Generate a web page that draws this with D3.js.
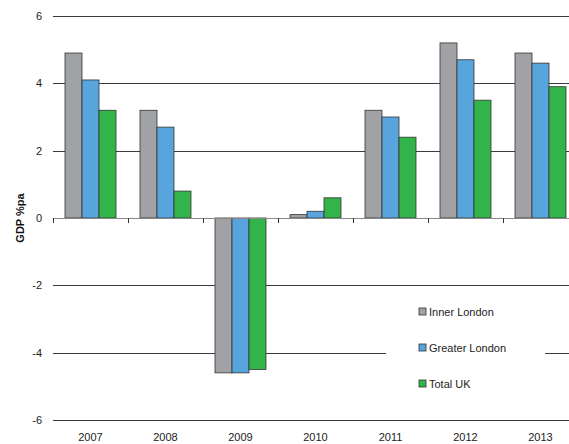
<!DOCTYPE html>
<html>
<head>
<meta charset="utf-8">
<script src="https://cdn.jsdelivr.net/npm/d3@7"></script>
<style>
  body { margin: 0; background: #fff; }
  svg { font-family: "Liberation Sans", Arial, sans-serif; }
</style>
</head>
<body>
<div id="chart"></div>
<script>
const years = ["2007", "2008", "2009", "2010", "2011", "2012", "2013"];
const seriesNames = ["Inner London", "Greater London", "Total UK"];
const innerLondon = [4.9, 3.2, -4.6, 0.1, 3.2, 5.2, 4.9];
const greaterLondon = [4.1, 2.7, -4.6, 0.2, 3.0, 4.7, 4.6];
const totalUK = [3.2, 0.8, -4.5, 0.6, 2.4, 3.5, 3.9];
const yTicks = [-6, -4, -2, 0, 2, 4, 6];

const width = 569, height = 444;
const colors = ["#a0a2a5", "#57a5dc", "#33b44a"];
const seriesValues = [innerLondon, greaterLondon, totalUK];

const svg = d3.select("#chart").append("svg")
    .attr("width", width)
    .attr("height", height);

const x = d3.scaleBand()
    .domain(years)
    .range([53, 578]);

const xSub = d3.scaleBand()
    .domain(seriesNames)
    .range([12, 63]);

const y = d3.scaleLinear()
    .domain([-6, 6])
    .range([420, 16]);

// gridlines
svg.append("g")
    .selectAll("line")
    .data(yTicks.filter(d => d !== 0))
    .enter()
    .append("line")
    .attr("x1", 53)
    .attr("x2", width)
    .attr("y1", d => Math.round(y(d)) + 0.5)
    .attr("y2", d => Math.round(y(d)) + 0.5)
    .attr("stroke", "#3a3a3a")
    .attr("stroke-width", 1);

// y labels
svg.append("g")
    .selectAll("text")
    .data(yTicks)
    .enter()
    .append("text")
    .attr("x", 42)
    .attr("y", d => y(d) + 4)
    .attr("text-anchor", "end")
    .attr("font-size", 11)
    .attr("fill", "#222")
    .text(d => d);

// y title
svg.append("text")
    .attr("transform", "translate(24,218) rotate(-90)")
    .attr("text-anchor", "middle")
    .attr("font-size", 11)
    .attr("font-weight", "bold")
    .attr("fill", "#111")
    .text("GDP %pa");

// bars
const groups = svg.append("g")
    .selectAll("g")
    .data(years)
    .enter()
    .append("g")
    .attr("transform", d => `translate(${x(d)},0)`);

groups.selectAll("rect")
    .data((d, i) => seriesNames.map((s, j) => ({ s: s, v: seriesValues[j][i], c: colors[j] })))
    .enter()
    .append("rect")
    .attr("x", d => xSub(d.s))
    .attr("width", xSub.bandwidth())
    .attr("y", d => y(Math.max(0, d.v)))
    .attr("height", d => Math.abs(y(d.v) - y(0)))
    .attr("fill", d => d.c)
    .attr("stroke", "#333")
    .attr("stroke-width", 0.8);

// zero axis with ticks
svg.append("line")
    .attr("x1", 53)
    .attr("x2", width)
    .attr("y1", Math.round(y(0)) + 0.5)
    .attr("y2", Math.round(y(0)) + 0.5)
    .attr("stroke", "#888")
    .attr("stroke-width", 1);

svg.append("g")
    .selectAll("line")
    .data(years)
    .enter()
    .append("line")
    .attr("x1", d => x(d) + 0.5)
    .attr("x2", d => x(d) + 0.5)
    .attr("y1", y(0))
    .attr("y2", y(0) + 5)
    .attr("stroke", "#333");

// x labels
svg.append("g")
    .selectAll("text")
    .data(years)
    .enter()
    .append("text")
    .attr("x", d => x(d) + x.bandwidth() / 2)
    .attr("y", 441)
    .attr("text-anchor", "middle")
    .attr("font-size", 11)
    .attr("fill", "#222")
    .text(d => d);

// legend
const legend = svg.append("g");
legend.append("rect")
    .attr("x", 386)
    .attr("y", 292)
    .attr("width", 159)
    .attr("height", 112)
    .attr("fill", "#fff");

const legendItems = legend.selectAll("g")
    .data(seriesNames)
    .enter()
    .append("g")
    .attr("transform", (d, i) => `translate(419,${308 + i * 36})`);

legendItems.append("rect")
    .attr("width", 7)
    .attr("height", 7)
    .attr("fill", (d, i) => colors[i])
    .attr("stroke", "#333")
    .attr("stroke-width", 0.8);

legendItems.append("text")
    .attr("x", 10)
    .attr("y", 7.5)
    .attr("font-size", 11)
    .attr("fill", "#222")
    .text(d => d);
</script>
</body>
</html>
